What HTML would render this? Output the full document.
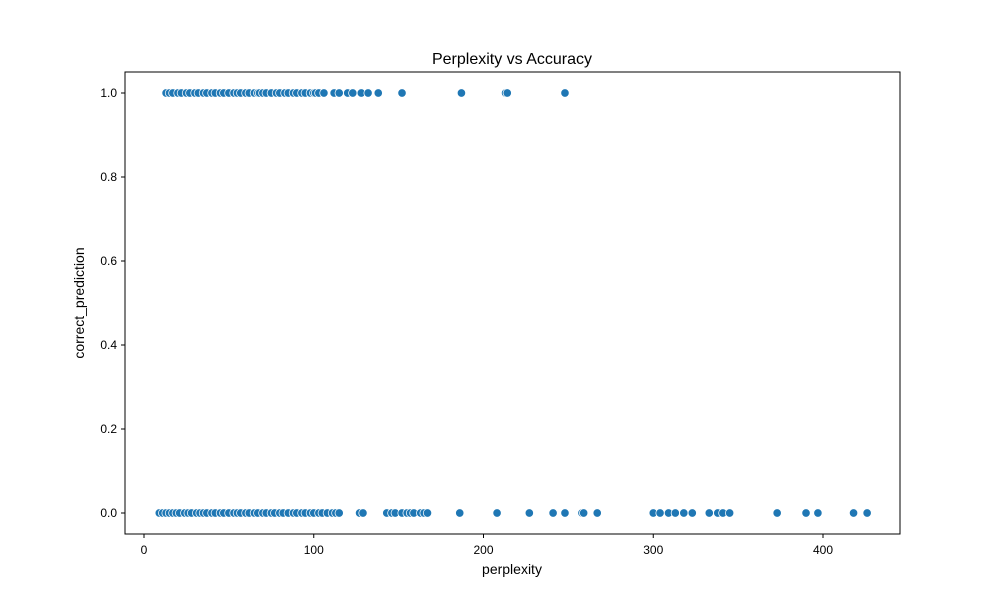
<!DOCTYPE html>
<html><head><meta charset="utf-8"><style>
body{margin:0;background:#fff;}
svg text{font-family:"Liberation Sans","DejaVu Sans",sans-serif;fill:#000;}
</style></head><body>
<svg width="1000" height="600">
<rect width="1000" height="600" fill="#fff"/>
<text x="512" y="64" font-size="16" text-anchor="middle">Perplexity vs Accuracy</text>
<g id="marks"></g>
<rect x="125" y="72" width="775" height="462" fill="none" stroke="#000" stroke-width="1"/>
<g id="xt"></g>
<g id="yt"></g>
<text x="512" y="574" font-size="14" text-anchor="middle">perplexity</text>
<text x="0" y="0" font-size="14" text-anchor="middle" transform="translate(84,303) rotate(-90)">correct_prediction</text>
</svg>
<script>
const correctX=[13,15,17,20,22,25,27,30,32,35,37,40,42,45,47,50,53,55,57,60,62,65,67,68,70,72,75,78,80,83,85,88,90,93,95,98,100,101,103,106,112,115,120,123,128,132,138,152,187,213,214,248];
const wrongX=[9,11,13,15,17,19,21,24,26,28,31,33,35,37,40,42,45,47,50,53,55,57,60,62,65,67,70,72,75,77,80,82,85,88,90,93,95,98,100,103,105,108,111,113,115,127,129,143,146,148,152,155,157,159,163,165,167,186,208,227,241,248,258,259,267,300,304,309,313,318,323,333,338,341,345,373,390,397,418,426];
const xTicks=[0,100,200,300,400];
const yTicks=[0.0,0.2,0.4,0.6,0.8,1.0];
const NS="http://www.w3.org/2000/svg";
const xs=v=>144+v*1.6975;
const ys=v=>513-v*420;
const marks=document.getElementById('marks');
function dot(x,y){const c=document.createElementNS(NS,'circle');c.setAttribute('cx',xs(x));c.setAttribute('cy',ys(y));c.setAttribute('r',4.2);c.setAttribute('fill','#1f77b4');c.setAttribute('stroke','#fff');c.setAttribute('stroke-width','0.75');


marks.appendChild(c);}
correctX.forEach(x=>dot(x,1));
wrongX.forEach(x=>dot(x,0));
const xt=document.getElementById('xt'),yt=document.getElementById('yt');
xTicks.forEach(t=>{const x=xs(t);const l=document.createElementNS(NS,'line');l.setAttribute('x1',x);l.setAttribute('x2',x);l.setAttribute('y1',534);l.setAttribute('y2',538);l.setAttribute('stroke','#000');xt.appendChild(l);
const s=document.createElementNS(NS,'text');s.setAttribute('x',x);s.setAttribute('y',554);s.setAttribute('font-size','12');s.setAttribute('text-anchor','middle');s.textContent=t;


xt.appendChild(s);});
yTicks.forEach(t=>{const y=ys(t);const l=document.createElementNS(NS,'line');l.setAttribute('x1',121);l.setAttribute('x2',125);l.setAttribute('y1',y);l.setAttribute('y2',y);l.setAttribute('stroke','#000');yt.appendChild(l);
const s=document.createElementNS(NS,'text');s.setAttribute('x',117);s.setAttribute('y',y+4);s.setAttribute('font-size','12');s.setAttribute('text-anchor','end');s.textContent=t.toFixed(1);


yt.appendChild(s);});
</script>
</body></html>
